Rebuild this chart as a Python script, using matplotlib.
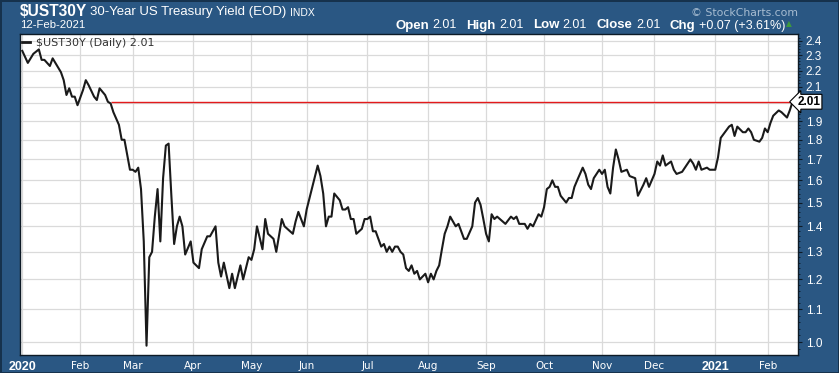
import matplotlib
matplotlib.use("Agg")
import matplotlib.pyplot as plt
import matplotlib.transforms as mtransforms
from matplotlib.lines import Line2D
from matplotlib.ticker import FixedLocator, FixedFormatter, NullFormatter
import numpy as np
import pandas as pd

# ---------------- data ----------------
dates = [
    "2020-01-02", "2020-01-06", "2020-01-08", "2020-01-10", "2020-01-13", "2020-01-14", "2020-01-16",
    "2020-01-17", "2020-01-22", "2020-01-23", "2020-01-24", "2020-01-27", "2020-01-28", "2020-01-29",
    "2020-01-30", "2020-01-31", "2020-02-04", "2020-02-05", "2020-02-06", "2020-02-10", "2020-02-11",
    "2020-02-12", "2020-02-14", "2020-02-18", "2020-02-19", "2020-02-20", "2020-02-24", "2020-02-25",
    "2020-02-26", "2020-02-28", "2020-03-02", "2020-03-03", "2020-03-04", "2020-03-05", "2020-03-06",
    "2020-03-09", "2020-03-10", "2020-03-11", "2020-03-12", "2020-03-13", "2020-03-16", "2020-03-17",
    "2020-03-18", "2020-03-19", "2020-03-20", "2020-03-23", "2020-03-24", "2020-03-25", "2020-03-26",
    "2020-03-27", "2020-03-31", "2020-04-01", "2020-04-03", "2020-04-06", "2020-04-08", "2020-04-09",
    "2020-04-14", "2020-04-15", "2020-04-16", "2020-04-17", "2020-04-21", "2020-04-22", "2020-04-23",
    "2020-04-27", "2020-04-28", "2020-04-30", "2020-05-01", "2020-05-04", "2020-05-05", "2020-05-07",
    "2020-05-08", "2020-05-11", "2020-05-13", "2020-05-14", "2020-05-18", "2020-05-19", "2020-05-20",
    "2020-05-22", "2020-05-26", "2020-05-27", "2020-05-29", "2020-06-01", "2020-06-05", "2020-06-08",
    "2020-06-09", "2020-06-10", "2020-06-11", "2020-06-12", "2020-06-15", "2020-06-17", "2020-06-18",
    "2020-06-19", "2020-06-22", "2020-06-23", "2020-06-24", "2020-06-25", "2020-06-29", "2020-06-30",
    "2020-07-01", "2020-07-02", "2020-07-06", "2020-07-07", "2020-07-09", "2020-07-10", "2020-07-13",
    "2020-07-14", "2020-07-15", "2020-07-16", "2020-07-17", "2020-07-20", "2020-07-21", "2020-07-22",
    "2020-07-23", "2020-07-24", "2020-07-27", "2020-07-28", "2020-07-29", "2020-07-31", "2020-08-03",
    "2020-08-04", "2020-08-05", "2020-08-06", "2020-08-07", "2020-08-10", "2020-08-11", "2020-08-12",
    "2020-08-13", "2020-08-14", "2020-08-17", "2020-08-18", "2020-08-19", "2020-08-20", "2020-08-21",
    "2020-08-25", "2020-08-26", "2020-08-27", "2020-08-28", "2020-08-31", "2020-09-01", "2020-09-02",
    "2020-09-03", "2020-09-04", "2020-09-08", "2020-09-10", "2020-09-11", "2020-09-15", "2020-09-16",
    "2020-09-17", "2020-09-18", "2020-09-22", "2020-09-23", "2020-09-24", "2020-09-25", "2020-09-29",
    "2020-09-30", "2020-10-01", "2020-10-02", "2020-10-05", "2020-10-06", "2020-10-07", "2020-10-08",
    "2020-10-09", "2020-10-14", "2020-10-15", "2020-10-16", "2020-10-19", "2020-10-20", "2020-10-22",
    "2020-10-23", "2020-10-26", "2020-10-27", "2020-10-28", "2020-10-30", "2020-11-02", "2020-11-03",
    "2020-11-04", "2020-11-05", "2020-11-06", "2020-11-09", "2020-11-10", "2020-11-12", "2020-11-16",
    "2020-11-17", "2020-11-19", "2020-11-20", "2020-11-24", "2020-11-25", "2020-11-27", "2020-12-01",
    "2020-12-02", "2020-12-03", "2020-12-04", "2020-12-07", "2020-12-09", "2020-12-10", "2020-12-11",
    "2020-12-15", "2020-12-16", "2020-12-18", "2020-12-21", "2020-12-22", "2020-12-23", "2020-12-24",
    "2020-12-29", "2020-12-30", "2021-01-04", "2021-01-05", "2021-01-06", "2021-01-08", "2021-01-11",
    "2021-01-12", "2021-01-13", "2021-01-14", "2021-01-19", "2021-01-20", "2021-01-21", "2021-01-22",
    "2021-01-25", "2021-01-27", "2021-01-28", "2021-01-29", "2021-02-01", "2021-02-02", "2021-02-03",
    "2021-02-05", "2021-02-08", "2021-02-10", "2021-02-11", "2021-02-12",
]
yields = [
    2.33, 2.25, 2.31, 2.34, 2.27, 2.27, 2.23,
    2.28, 2.22, 2.19, 2.14, 2.05, 2.09, 2.04,
    2.04, 1.99, 2.08, 2.14, 2.11, 2.04, 2.02,
    2.09, 2.05, 2.01, 2.00, 1.95, 1.88, 1.80,
    1.80, 1.65, 1.65, 1.64, 1.66, 1.56, 1.34,
    0.99, 1.28, 1.30, 1.44, 1.56, 1.34, 1.61,
    1.77, 1.78, 1.53, 1.33, 1.40, 1.44, 1.40,
    1.29, 1.34, 1.26, 1.24, 1.31, 1.36, 1.36,
    1.40, 1.26, 1.21, 1.26, 1.17, 1.22, 1.17,
    1.25, 1.20, 1.28, 1.27, 1.31, 1.40, 1.31,
    1.43, 1.37, 1.35, 1.30, 1.43, 1.40, 1.39,
    1.37, 1.42, 1.46, 1.40, 1.47, 1.67, 1.62,
    1.54, 1.40, 1.44, 1.44, 1.54, 1.51, 1.47,
    1.47, 1.48, 1.43, 1.43, 1.37, 1.39, 1.43,
    1.43, 1.44, 1.38, 1.38, 1.32, 1.33, 1.30,
    1.32, 1.30, 1.32, 1.32, 1.30, 1.29, 1.24,
    1.23, 1.25, 1.22, 1.23, 1.20, 1.22, 1.19,
    1.22, 1.20, 1.23, 1.25, 1.31, 1.37, 1.40,
    1.44, 1.42, 1.40, 1.41, 1.38, 1.35, 1.35,
    1.40, 1.50, 1.52, 1.49, 1.43, 1.37, 1.34,
    1.45, 1.43, 1.44, 1.42, 1.41, 1.44, 1.43,
    1.44, 1.41, 1.41, 1.39, 1.41, 1.40, 1.45,
    1.44, 1.48, 1.56, 1.57, 1.60, 1.57, 1.57,
    1.53, 1.50, 1.52, 1.52, 1.57, 1.60, 1.66,
    1.63, 1.58, 1.56, 1.61, 1.65, 1.63, 1.65,
    1.57, 1.54, 1.66, 1.75, 1.70, 1.64, 1.65,
    1.62, 1.61, 1.53, 1.58, 1.61, 1.57, 1.63,
    1.69, 1.67, 1.72, 1.67, 1.69, 1.65, 1.63,
    1.64, 1.66, 1.70, 1.68, 1.65, 1.69, 1.65,
    1.66, 1.65, 1.65, 1.71, 1.81, 1.85, 1.87,
    1.88, 1.82, 1.87, 1.84, 1.84, 1.86, 1.84,
    1.80, 1.79, 1.81, 1.86, 1.84, 1.89, 1.93,
    1.96, 1.95, 1.92, 1.96, 2.01,
]
market_holidays = ["2020-01-20", "2020-02-17", "2020-04-10", "2020-05-25", "2020-07-03",
                   "2020-09-07", "2020-10-12", "2020-11-11", "2020-11-26", "2020-12-25",
                   "2021-01-01", "2021-01-18"]
month_labels = ["2020", "Feb", "Mar", "Apr", "May", "Jun", "Jul", "Aug", "Sep", "Oct",
                "Nov", "Dec", "2021", "Feb"]
year_labels = ["2020", "2021"]
y_ticks = [1.0, 1.1, 1.2, 1.3, 1.4, 1.5, 1.6, 1.7, 1.8, 1.9, 2.0, 2.1, 2.2, 2.3, 2.4]
y_labels = ["1.0", "1.1", "1.2", "1.3", "1.4", "1.5", "1.6", "1.7", "1.8", "1.9", "", "2.1", "2.2", "2.3", "2.4"]
last_value = 2.01
level_start = "2020-02-19"
header_parts = [("Open", "bold"), ("2.01", "normal"), ("High", "bold"), ("2.01", "normal"),
                ("Low", "bold"), ("2.01", "normal"), ("Close", "bold"), ("2.01", "normal"),
                ("Chg", "bold"), ("+0.07 (+3.61%)", "normal")]

# ---------------- style ----------------
W, H = 839, 373
BG = "#2a5783"
GRID = "#dadada"
FONT = "Liberation Sans"

def fx(px):
    return px / W

def fy(py):
    return 1 - py / H

sessions = pd.bdate_range("2020-01-02", "2021-02-12", freq="C", holidays=market_holidays)
x = sessions.get_indexer(pd.to_datetime(dates))
month_first = sessions.to_series().groupby(sessions.to_period("M")).first()
month_pos = sessions.get_indexer(pd.DatetimeIndex(month_first.values))

fig = plt.figure(figsize=(W / 100, H / 100), dpi=100)
fig.patch.set_facecolor(BG)
fig.patch.set_edgecolor("#16324d")
fig.patch.set_linewidth(2)

ax = fig.add_axes([fx(20), 1 - 354.5 / H, fx(797.5) - fx(20), (354.5 - 34) / H])
ax.set_facecolor("white")
ax.set_yscale("log")
ax.set_xlim(-0.83, 280.8)
ax.set_ylim(0.965, 2.447)

# grid
for yv in y_ticks:
    ax.axhline(yv, color=GRID, lw=0.9, zorder=1)
for mp in month_pos:
    ax.axvline(mp, color=GRID, lw=0.9, zorder=1)

# level line and series
ax.hlines(last_value, sessions.get_loc(pd.Timestamp(level_start)), x[-1], color="#e31a1c", lw=1.0, zorder=2)
ax.plot(x, yields, color="#1a1a1a", lw=1.5, zorder=3, solid_joinstyle="round")

# axes
for s in ax.spines.values():
    s.set_color("#0d1a26")
    s.set_linewidth(1.0)

ax.yaxis.tick_right()
ax.yaxis.set_major_locator(FixedLocator(y_ticks))
ax.yaxis.set_major_formatter(FixedFormatter(y_labels))
ax.yaxis.set_minor_locator(FixedLocator(np.round(np.arange(0.98, 2.44, 0.02), 2)))
ax.yaxis.set_minor_formatter(NullFormatter())
ax.tick_params(axis="y", which="major", length=3, width=0.8, color="#0d1a26", pad=3,
               labelcolor="white", labelsize=8.5)
ax.tick_params(axis="y", which="minor", length=1.5, width=0.6, color="#0d1a26")
for lab in ax.get_yticklabels():
    lab.set_family(FONT)

ax.xaxis.set_major_locator(FixedLocator(month_pos))
ax.xaxis.set_major_formatter(FixedFormatter(month_labels))
ax.xaxis.set_minor_formatter(NullFormatter())
ax.tick_params(axis="x", which="both", length=0, pad=4.5, labelcolor="white", labelsize=7.5)
for lab in ax.get_xticklabels():
    lab.set_family("DejaVu Sans")
    if lab.get_text() in year_labels:
        lab.set_fontweight("bold")
        lab.set_family(FONT)
        lab.set_fontsize(9)

# price marker on the right axis
trans = mtransforms.blended_transform_factory(ax.transAxes, ax.transData)
ax.text(1.0, last_value, f"{last_value:.2f}", transform=trans, ha="left", va="center",
        fontsize=8.5, fontweight="bold", family=FONT, color="black", zorder=10, clip_on=False,
        bbox=dict(boxstyle="larrow,pad=0.12", fc="white", ec="black", lw=0.8))

# in-plot legend
fig.add_artist(Line2D([fx(22), fx(30)], [fy(42), fy(42)], color="#1a1a1a", lw=2))
fig.text(fx(36), fy(42.5), "\\$UST30Y (Daily) 2.01", family="DejaVu Sans", fontsize=8,
         color="#333333", ha="left", va="center")

# header
renderer = fig.canvas.get_renderer()
fig.text(fx(20), fy(11.5), "\\$UST30Y", family=FONT, fontweight="bold", fontsize=11.2, color="white",
         ha="left", va="center")
fig.text(fx(90), fy(12.5), "30-Year US Treasury Yield (EOD)", family=FONT, fontsize=9.5,
         color="white", ha="left", va="center")
fig.text(fx(290), fy(13), "INDX", family=FONT, fontsize=7.5, color="white", ha="left", va="center")
fig.text(fx(20.5), fy(25.5), "12-Feb-2021", family=FONT, fontsize=8.2, color="white",
         ha="left", va="center")
fig.text(fx(798), fy(12.5), "\u00a9 StockCharts.com", family="DejaVu Sans", fontsize=7.8,
         color="#a7bcd1", ha="right", va="center")

xpos = 395
for k, (txt, wt) in enumerate(header_parts):
    t = fig.text(fx(xpos), fy(25.5), txt, family=FONT, fontweight=wt,
                 fontsize=9.5 if wt == "bold" else 9, color="white", ha="left", va="center")
    bb = t.get_window_extent(renderer)
    xpos = bb.x1 + (3.5 if wt == "bold" else 9.5)
fig.text(fx(xpos - 8.5), fy(24), "\u25b2", family="DejaVu Sans", fontsize=5.5, color="#3e9a3e",
         ha="left", va="center")

fig.savefig("out.png", dpi=100, facecolor=fig.get_facecolor(), edgecolor=fig.get_edgecolor())
